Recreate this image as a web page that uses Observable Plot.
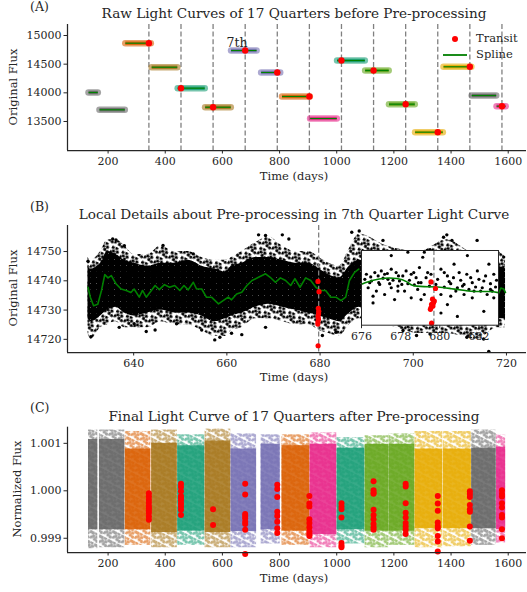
<!DOCTYPE html>
<html><head><meta charset="utf-8">
<script src="https://cdn.jsdelivr.net/npm/d3@7"></script>
<script src="https://cdn.jsdelivr.net/npm/@observablehq/plot@0.6"></script>
<style>
body{margin:0;background:#fff;}
#wrap{position:relative;width:527px;height:592px;overflow:hidden;font-family:"DejaVu Serif",serif;color:#262626;background:#fff;}
.t{position:absolute;white-space:nowrap;line-height:1;}
#wrap svg{position:absolute;}
</style></head><body><div id="wrap"></div>
<script>
// ---------- DATA ----------
const quarterStart = [131.5,169.8,260.2,352.4,443.5,539.5,630.2,735.4,808.5,906.8,1001.2,1099.4,1182.8,1274.1,1373.5,1472.1,1559.2];
const quarterEnd   = [164.0,258.5,349.5,442.2,538.2,629.3,719.6,802.3,905.9,1000.3,1098.3,1181.9,1273.1,1371.3,1471.1,1558.0,1591.0];
const quarterFlux  = [14006,13704,14866,14447,14081,13749,14738,14355,13936,13552,14564,14390,13802,13314,14454,13953,13767];
const quarterColor = ["#666666","#666666","#d95f02","#a6761d","#1b9e77","#a6761d","#7570b3","#7570b3","#d95f02","#e7298a","#1b9e77","#66a61e","#66a61e","#e6ab02","#e6ab02","#666666","#e7298a"];
const transitTime  = [342.8,455.1,567.4,679.7,792.0,904.3,1016.6,1128.9,1241.2,1353.5,1465.8,1578.1];

// panel C normalized bands (core and fringe per quarter)
const normCoreHi   = [1.00108,1.00108,1.00088,1.00100,1.00095,1.00105,1.00088,1.00098,1.00095,1.00098,1.00090,1.00098,1.00098,1.00088,1.00088,1.00090,1.00092];
const normCoreLo   = [0.99918,0.99918,0.99918,0.99912,0.99915,0.99912,0.99914,0.99918,0.99915,0.99908,0.99918,0.99915,0.99915,0.99920,0.99920,0.99920,0.99918];
const normFringeHi = [1.00128,1.00128,1.00125,1.00128,1.00118,1.00130,1.00120,1.00118,1.00118,1.00122,1.00112,1.00116,1.00120,1.00125,1.00125,1.00128,1.00118];
const normFringeLo = [0.99878,0.99880,0.99885,0.99880,0.99885,0.99880,0.99880,0.99888,0.99885,0.99880,0.99888,0.99880,0.99885,0.99880,0.99882,0.99885,0.99890];
const transitNormFlux = [
  [0.99995,0.99988,0.99981,0.99975,0.99968,0.99963,0.99958,0.99953,0.99946,0.99939],
  [1.00015,1.00008,0.99999,0.99989,0.99985,0.9998,0.99973,0.99967,0.9996,0.99949],
  [0.99961,0.99928],
  [1.00015,0.99992,0.99951,0.99947,0.99942,0.99935,0.9993,0.99918,0.99867],
  [1.00013,1.00004,0.99987,0.99956,0.99947,0.99935,0.99921,0.99911],
  [0.99989,0.99973,0.99967,0.9994,0.99932,0.99923,0.99914,0.99909,0.99905],
  [0.99974,0.99967,0.99961,0.99944,0.9989,0.99885,0.99881],
  [1.0002,1.00001,0.99996,0.99994,0.9996,0.99949,0.9994,0.9993,0.99923,0.99918],
  [1.00015,1.00009,0.99974,0.99954,0.99944,0.99932,0.99925,0.99918,0.99909],
  [0.99989,0.99973,0.99958,0.99933,0.99926,0.99921,0.99905,0.99893,0.99872],
  [0.99999,0.99993,0.99987,0.9997,0.99961,0.99956,0.99925,0.99895],
  [1.00001,0.99994,0.99988,0.99974,0.99965,0.99949,0.99944,0.99919,0.999]
];

// panel B: 7th quarter cloud envelope, spline, outliers, transit points
const bandDay = [630.2,630.8,632.9,634.4,636.2,638,640.1,643,645.9,648.8,651.7,654.6,657.4,659.6,661,663.2,666.1,669,671.9,674.7,677.6,679.8,681.9,684.1,686.3,688.4,694.2,701.4,707.2,713.7,718.1,719.8];
const coreHi = [14745,14744,14746,14750,14749,14747,14746,14745,14746,14746,14747,14745,14744,14743,14745,14746,14748,14748,14747,14746,14746,14744,14742,14741,14745,14747,14746,14745,14746,14744,14745,14744];
const coreLo = [14727,14726,14728,14730,14731,14729,14728,14729,14730,14729,14729,14728,14726,14727,14728,14729,14731,14732,14731,14730,14729,14728,14727,14726,14729,14731,14730,14729,14728,14727,14727,14727];
const haloHi = [14748,14747,14750,14754,14754,14752,14749,14749,14752,14750,14750,14748,14747,14747,14748,14750,14753,14755,14752,14750,14750,14748,14746,14745,14751,14756,14752,14750,14754,14749,14750,14748];
const haloLo = [14722,14720,14724,14725,14726,14724,14724,14724,14726,14725,14725,14723,14721,14721,14723,14724,14727,14727,14726,14725,14725,14723,14722,14721,14725,14727,14725,14722,14722,14720,14724,14724];
const outlierDay  = [630.2,630.8,635.5,636.2,638,636.9,640.1,642.7,644.6,646.3,649.2,652.8,654.6,657.4,658.5,661,663.2,666.8,668.3,671.9,673.3,668.3,683.4,680.5,686.8,688.4,693.5,703.6,706.5,707.2,708.3,713.7,697.8,700.7,703.6,715.1,716.2,711.5,719.4];
const outlierFlux = [14746.7,14720.9,14754.3,14754,14752,14724.1,14725.3,14722.7,14723.2,14752.1,14725.3,14749.2,14723.2,14719.8,14720.7,14722.1,14721.6,14755.7,14755.5,14755.7,14754.3,14724.1,14722.4,14721.3,14756.6,14757,14753.8,14750.6,14754.9,14755.7,14753.8,14753.8,14723,14721.3,14721.8,14720.1,14715.9,14720.7,14748.1];
const splineDay  = [630.2,630.7,631.4,632.3,633.1,633.8,634.5,635.2,636.2,637.3,638.4,639.4,640.1,641.2,641.9,642.7,643.8,644.6,645.5,646.6,647.7,648.8,649.9,650.8,651.7,652.8,653.5,654.6,655.6,656.7,658.2,659.2,660.3,661,662.1,663.2,664.3,665.4,666.8,668.3,669.3,670.4,671.5,672.6,673.7,674.6,675.7,676.9,678,679.1,680.1,681.2,682.3,683.4,684.5,685.5,686.3,687.4,688.3,718.1,718.8,719.4,719.8];
const splineFlux = [14737.8,14734.4,14731.5,14732,14736.7,14742.1,14741,14741.8,14739,14737.2,14736.7,14736,14737.2,14734.4,14736.7,14734.4,14736.7,14738.4,14737,14738.7,14737.8,14738.4,14736.7,14738.4,14736.9,14739.5,14737.2,14737.2,14734.4,14734.4,14732.1,14733.2,14734.4,14733.5,14735.5,14736.1,14738.4,14740.1,14741.2,14742.4,14741.2,14739.5,14741,14740.1,14738.4,14740.7,14737.8,14741,14740.1,14737.8,14736.7,14736.7,14734.4,14734.4,14733.2,14734.4,14740.1,14742.9,14744,14735,14737.5,14737.2,14736];
const transitBDay  = [679.55,679.78,679.63,679.72,679.68,679.58,679.65,679.55,679.52,679.58];
const transitBFlux = [14739.8,14736.3,14730.6,14729.6,14728.7,14727.8,14726.9,14726.0,14725.2,14717.8];

// inset (676-683 days)
const insetDotDay  = [676.25,676.51,676.68,676.85,677.01,677.18,677.35,677.52,677.77,677.94,678.11,678.28,678.54,678.79,678.96,679.13,679.38,680.06,680.39,680.73,680.99,681.24,681.58,681.92,682.25,682.51,682.76,676.34,676.59,676.76,677.18,677.52,677.69,678.2,678.54,678.87,679.21,680.06,680.39,680.82,681.24,681.66,682.09,682.42,682.25,682.68,680.06,680.9,678.37,679.21,681.41,677.52,676.42,676.93,677.44,677.86,678.37,678.7,679.04,679.47,679.8,680.23,680.56,680.9,681.16,681.49,681.83,682.17,682.59,682.85,
  676.17,676.47,676.88,677.10,677.32,677.61,677.89,678.06,678.45,678.67,678.91,679.30,679.55,679.89,680.23,680.48,680.70,681.07,681.38,681.66,682.00,682.34,682.59,682.90,676.59,677.86,679.04,680.56,681.75,682.76];
const insetDotFlux = [14743.9,14740.3,14744.8,14743.0,14745.7,14743.9,14741.2,14746.6,14744.8,14740.3,14743.0,14745.7,14743.9,14742.1,14747.5,14753.0,14744.8,14746.6,14743.0,14749.3,14744.8,14738.5,14742.1,14745.7,14740.3,14749.3,14743.9,14736.7,14728.6,14734.9,14733.1,14736.7,14730.4,14734.9,14731.3,14735.8,14733.1,14733.1,14727.7,14734.9,14733.1,14731.3,14734.9,14733.1,14724.1,14734.9,14723.2,14721.4,14755.7,14755.7,14753.9,14753.9,14739.4,14738.5,14738.9,14737.6,14738.9,14738.2,14739.4,14737.6,14738.5,14737.1,14738.9,14736.7,14737.6,14735.8,14737.1,14736.7,14735.8,14737.1,
  14741.2,14742.5,14739.4,14741.8,14744.3,14740.7,14743.0,14738.5,14740.7,14744.8,14739.4,14742.1,14743.9,14741.2,14744.8,14740.0,14742.1,14740.7,14743.9,14739.4,14741.2,14743.0,14738.9,14740.7,14732.2,14734.9,14730.4,14732.2,14734.9,14731.3];
const insetSplineDay  = [676.0,676.6,677.2,677.8,678.3,678.6,679.2,679.9,680.6,681.3,681.8,682.5,683.0];
const insetSplineFlux = [14738.6,14740.7,14741.8,14741.6,14740.0,14738.0,14737.3,14737.1,14736.2,14735.2,14734.7,14734.7,14734.1];

// axes
const xDomainA = [58, 1664];
const xTicksA = [200,400,600,800,1000,1200,1400,1600];
const yDomainA = [12994, 15192];
const yTicksA = [13500,14000,14500,15000];
const xDomainB = [625.8, 724.3];
const xTicksB = [640,660,680,700,720];
const yDomainB = [14715.5, 14758.9];
const yTicksB = [14720,14730,14740,14750];
const xDomainInset = [676, 683];
const xTicksInset = [676,678,680,682];
const yDomainInset = [14716.7, 14756.6];
const yDomainC = [0.9987, 1.00134];
const yTicksC = [0.999,1.000,1.001];

// ---------- BUILD ----------
const wrap = document.getElementById("wrap");
const FONT = '"DejaVu Serif", serif';
const INK = "#262626";
const baseStyle = {background: "transparent", fontFamily: FONT, fontSize: "11px", color: INK, overflow: "visible"};
const SVGNS = "http://www.w3.org/2000/svg";

const palette = Array.from(new Set(quarterColor));
const patId = c => "pat" + c.slice(1);

const quarters = quarterStart.map((s, i) => ({
  s, e: quarterEnd[i], f: quarterFlux[i], c: quarterColor[i], pat: `url(#${patId(quarterColor[i])})`,
  cHi: normCoreHi[i], cLo: normCoreLo[i], fHi: normFringeHi[i], fLo: normFringeLo[i]
}));
const transitsA = transitTime.map(t => {
  const q = quarters.find(q => t >= q.s - 1 && t <= q.e + 1);
  return {t, f: q.f};
});
const transitsC = transitTime.flatMap((t, i) => transitNormFlux[i].map(v => ({t, v})));
const band = bandDay.map((d, i) => ({d, cHi: coreHi[i], cLo: coreLo[i], hHi: haloHi[i], hLo: haloLo[i]}));
const outliers = outlierDay.map((d, i) => ({d, f: outlierFlux[i]}));
const splineSeg = splineDay.map((d, i) => ({d, f: splineFlux[i], seg: d > 700 ? 1 : 0}));
const transitB = transitBDay.map((d, i) => ({d, f: transitBFlux[i]}));
const insetDots = insetDotDay.map((d, i) => ({d, f: insetDotFlux[i]}));
const insetSpline = insetSplineDay.map((d, i) => ({d, f: insetSplineFlux[i]}));

const dash = {stroke: "#808080", strokeWidth: 1.3, strokeDasharray: "5,2.6"};
const spines = (xd, yd) => [
  Plot.ruleY([yd[0]], {stroke: INK, strokeWidth: 1.25}),
  Plot.ruleX([xd[0]], {stroke: INK, strokeWidth: 1.25})
];
const axisOpts = {tickSize: 3.5, label: null};

// speckle fill pattern (fixed tile layout) to imitate the scatter texture of dense markers
const speckleTile = [[1.5,2.0],[5.6,1.2],[3.6,5.2],[7.8,4.6],[1.1,7.6],[6.2,8.1],[9.8,9.0],[10.6,1.8],[4.8,10.3],[9.4,6.9]];
function addPattern(svg, id, color, size, r, opacity, count, angle) {
  let defs = svg.querySelector("defs");
  if (!defs) { defs = document.createElementNS(SVGNS, "defs"); svg.insertBefore(defs, svg.firstChild); }
  const p = document.createElementNS(SVGNS, "pattern");
  p.setAttribute("id", id);
  p.setAttribute("patternUnits", "userSpaceOnUse");
  p.setAttribute("width", size);
  p.setAttribute("height", size);
  p.setAttribute("patternTransform", `rotate(${angle})`);
  speckleTile.slice(0, count).forEach(([cx, cy]) => {
    const c = document.createElementNS(SVGNS, "circle");
    c.setAttribute("cx", cx * size / 12); c.setAttribute("cy", cy * size / 12); c.setAttribute("r", r);
    c.setAttribute("fill", color); c.setAttribute("fill-opacity", opacity);
    p.appendChild(c);
  });
  defs.appendChild(p);
}

function place(svg, left, top) {
  svg.style.left = left + "px";
  svg.style.top = top + "px";
  wrap.appendChild(svg);
}

// Panel A
const plotA = Plot.plot({
  width: 527, height: 176, marginTop: 24, marginBottom: 26, marginLeft: 67, marginRight: 1,
  style: baseStyle,
  color: {type: "identity"},
  x: {domain: xDomainA, ticks: xTicksA, tickFormat: "d", tickPadding: 3, ...axisOpts},
  y: {domain: yDomainA, ticks: yTicksA, tickFormat: "d", tickPadding: 2.5, ...axisOpts},
  marks: [
    Plot.ruleX(transitTime, dash),
    Plot.link(quarters, {x1: "s", x2: "e", y1: "f", y2: "f", stroke: "c", strokeWidth: 6.5, strokeOpacity: 0.6, strokeLinecap: "round"}),
    Plot.link(quarters, {x1: "s", x2: "e", y1: "f", y2: "f", stroke: "c", strokeWidth: 3.5, strokeOpacity: 0.9}),
    Plot.link(quarters, {x1: "s", x2: "e", y1: "f", y2: "f", stroke: "green", strokeWidth: 1.2}),
    Plot.dot(transitsA, {x: "t", y: "f", r: 3.2, fill: "red"}),
    Plot.text([quarters[6]], {x: "s", y: "f", text: () => "7th", dx: 6, dy: -8, fontSize: 12.5, fill: INK, fontFamily: FONT}),
    ...spines(xDomainA, yDomainA)
  ]
});
place(plotA, 0, 0);

// Panel B
const plotB = Plot.plot({
  width: 527, height: 178, marginTop: 25, marginBottom: 26, marginLeft: 67, marginRight: 1,
  style: baseStyle,
  x: {domain: xDomainB, ticks: xTicksB, tickFormat: "d", tickPadding: 3, ...axisOpts},
  y: {domain: yDomainB, ticks: yTicksB, tickFormat: "d", tickPadding: 2.5, ...axisOpts},
  marks: [
    Plot.areaY(band, {x: "d", y1: "hLo", y2: "hHi", fill: "url(#haloB)", curve: "monotone-x"}),
    Plot.areaY(band, {x: "d", y1: "cLo", y2: "cHi", fill: "url(#coreB)", curve: "monotone-x"}),
    Plot.dot(outliers, {x: "d", y: "f", r: 1.7, fill: "black"}),
    Plot.line(splineSeg, {x: "d", y: "f", z: "seg", stroke: "green", strokeWidth: 1.6}),
    Plot.ruleX([transitTime[3]], dash),
    Plot.dot(transitB, {x: "d", y: "f", r: 2.6, fill: "red"}),
    ...spines(xDomainB, yDomainB)
  ]
});
addPattern(plotB, "haloB", "black", 11, 1.6, 1, 7, 27);
addPattern(plotB, "coreB", "black", 6, 1.8, 1, 10, 0);
place(plotB, 0, 200);

// Inset
const plotI = Plot.plot({
  width: 157, height: 95.7, marginTop: 1, marginBottom: 20, marginLeft: 10, marginRight: 10,
  style: baseStyle,
  x: {domain: xDomainInset, ticks: xTicksInset, tickFormat: "d", tickPadding: 3.5, ...axisOpts},
  y: {domain: yDomainInset, axis: null},
  marks: [
    Plot.frame({fill: "white", stroke: "none"}),
    Plot.dot(insetDots, {x: "d", y: "f", r: 1.6, fill: "black"}),
    Plot.line(insetSpline, {x: "d", y: "f", stroke: "green", strokeWidth: 1.6, curve: "natural"}),
    Plot.ruleX([transitTime[3]], dash),
    Plot.dot(transitB, {x: "d", y: "f", r: 2.6, fill: "red"}),
    Plot.frame({stroke: INK, strokeWidth: 1, fill: "none"})
  ]
});
place(plotI, 350.7, 249);

// Panel C
const plotC = Plot.plot({
  width: 527, height: 173, marginTop: 21.7, marginBottom: 26, marginLeft: 67, marginRight: 1,
  style: baseStyle,
  color: {type: "identity"},
  x: {domain: xDomainA, ticks: xTicksA, tickFormat: "d", tickPadding: 3, ...axisOpts},
  y: {domain: yDomainC, ticks: yTicksC, tickFormat: ".3f", tickPadding: 2.5, ...axisOpts},
  marks: [
    Plot.rect(quarters, {x1: "s", x2: "e", y1: "fLo", y2: "fHi", fill: "pat"}),
    Plot.rect(quarters, {x1: "s", x2: "e", y1: "cLo", y2: "cHi", fill: "c", fillOpacity: 0.88}),
    Plot.dot(transitsC, {x: "t", y: "v", r: 3, fill: "red"}),
    ...spines(xDomainA, yDomainC)
  ]
});
palette.forEach(c => addPattern(plotC, patId(c), c, 10, 1.7, 0.6, 8, 27));
place(plotC, 0, 405);

// ---------- TEXT ----------
function addText(txt, x, y, o = {}) {
  const d = document.createElement("div");
  d.className = "t";
  d.textContent = txt;
  d.style.left = x + "px";
  d.style.top = y + "px";
  d.style.fontSize = (o.size || 13) + "px";
  d.style.color = o.color || INK;
  const tx = o.anchor === "start" ? "0" : "-50%";
  d.style.transform = `translate(${tx},-50%)` + (o.rotate ? " rotate(-90deg)" : "");
  wrap.appendChild(d);
}
addText("(A)", 30, 7, {anchor: "start", size: 12.5});
addText("Raw Light Curves of 17 Quarters before Pre-processing", 294, 14, {size: 13.6});
addText("Time (days)", 294, 177, {size: 11.5});
addText("Original Flux", 14, 87, {size: 11.5, rotate: true});

addText("(B)", 30, 206.7, {anchor: "start", size: 12.5});
addText("Local Details about Pre-processing in 7th Quarter Light Curve", 294, 215, {size: 13.6});
addText("Time (days)", 294, 378.3, {size: 11.5});
addText("Original Flux", 14, 288, {size: 11.5, rotate: true});

addText("(C)", 30, 408.3, {anchor: "start", size: 12.5});
addText("Final Light Curve of 17 Quarters after Pre-processing", 294, 416.7, {size: 13.6});
addText("Time (days)", 294, 579.3, {size: 11.5});
addText("Normalized Flux", 18, 489, {size: 11.5, rotate: true});

// legend for panel A
const dotEl = document.createElement("div");
Object.assign(dotEl.style, {position: "absolute", left: "452px", top: "36px", width: "6px", height: "6px", borderRadius: "50%", background: "red"});
wrap.appendChild(dotEl);
const lineEl = document.createElement("div");
Object.assign(lineEl.style, {position: "absolute", left: "443px", top: "54px", width: "24px", height: "2px", background: "#1a8c1a"});
wrap.appendChild(lineEl);
addText("Transit", 476, 39, {anchor: "start", size: 11.5});
addText("Spline", 476, 55, {anchor: "start", size: 11.5});
</script></body></html>
